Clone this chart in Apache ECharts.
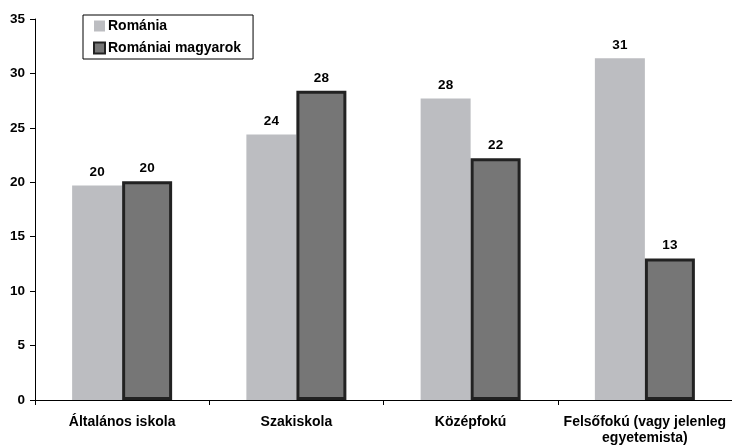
<!DOCTYPE html>
<html><head><meta charset="utf-8">
<script src="https://cdn.jsdelivr.net/npm/echarts@6/dist/echarts.min.js"></script>
<style>html,body{margin:0;padding:0;background:#fff}#c{width:732px;height:447px}</style>
</head><body><div id="c"></div>
<script>
const categories = ['Általános iskola', 'Szakiskola', 'Középfokú', 'Felsőfokú (vagy jelenleg\negyetemista)'];
const romania = [19.7, 24.4, 27.7, 31.4];
const magyarok = [20.1, 28.4, 22.2, 13.0];
const yTicks = [0, 5, 10, 15, 20, 25, 30, 35];

const chart = echarts.init(document.getElementById('c'));
const font = 'Liberation Sans, Arial, sans-serif';
chart.setOption({
  animation: false,
  textStyle: { fontFamily: font },
  grid: { left: 35, top: 19, width: 699, bottom: 47, containLabel: false },
  legend: {
    orient: 'vertical', left: 83, top: 15,
    padding: [4, 12, 4, 10], itemGap: 8,
    borderColor: '#000', borderWidth: 1,
    itemWidth: 11, itemHeight: 11, icon: 'rect',
    textStyle: { fontFamily: font, fontWeight: 'bold', fontSize: 14, color: '#000', padding: [0, 0, 0, -2] },
    data: [
      { name: 'Románia', itemStyle: { color: '#bcbdc1', borderWidth: 0 } },
      { name: 'Romániai magyarok', itemStyle: { color: '#767676', borderColor: '#222', borderWidth: 2 } }
    ]
  },
  xAxis: {
    type: 'category', data: categories,
    axisLine: { lineStyle: { color: '#000', width: 1 } },
    axisTick: { show: true, length: 5, lineStyle: { color: '#000' } },
    axisLabel: { color: '#000', fontWeight: 'bold', fontSize: 14, fontFamily: font, margin: 14, lineHeight: 16, interval: 0 }
  },
  yAxis: {
    type: 'value', min: yTicks[0], max: yTicks[yTicks.length - 1], interval: 5,
    axisLine: { show: true, lineStyle: { color: '#000', width: 1 } },
    axisTick: { show: true, length: 5, lineStyle: { color: '#000' } },
    splitLine: { show: false },
    axisLabel: { color: '#000', fontWeight: 'bold', fontSize: 13.5, fontFamily: font, margin: 10 }
  },
  series: [
    {
      name: 'Románia', type: 'bar', data: romania,
      barWidth: 50, barGap: '0%',
      itemStyle: { color: '#bcbdc1' },
      label: { show: true, position: 'top', distance: 6, color: '#000', fontWeight: 'bold', fontSize: 13.5, fontFamily: font,
        formatter: p => Math.round(p.value) }
    },
    {
      name: 'Romániai magyarok', type: 'bar', data: magyarok,
      barWidth: 50,
      itemStyle: { color: '#767676', borderColor: '#222', borderWidth: 3 },
      label: { show: true, position: 'top', distance: 6, color: '#000', fontWeight: 'bold', fontSize: 13.5, fontFamily: font,
        formatter: p => Math.round(p.value) }
    }
  ]
});
</script>
</body></html>
